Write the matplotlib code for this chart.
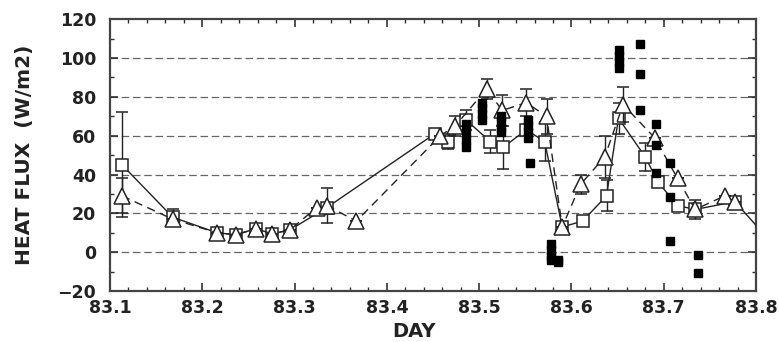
import numpy as np
import matplotlib.pyplot as plt
from matplotlib.ticker import MultipleLocator

# flux from the square-marker series (solid line)
sq_day = [83.113, 83.168, 83.216, 83.236, 83.258, 83.276, 83.295, 83.335, 83.452,
          83.466, 83.486, 83.512, 83.526, 83.551, 83.571, 83.590, 83.612, 83.638,
          83.651, 83.680, 83.694, 83.715, 83.734, 83.777, 83.815]
sq_flux = [45, 18, 10, 9, 12, 9.5, 11.5, 23, 61,
           57, 68, 57, 54, 63, 57, 13, 16, 29,
           69, 49, 36, 24, 22, 26, 6]
sq_err = [27, 4, 0, 0, 0, 0, 0, 0, 0,
          4, 5, 6, 11, 0, 10, 0, 0, 8,
          8, 7, 0, 0, 0, 0, 0]

# flux from the triangle-marker series (dashed line)
tr_day = [83.113, 83.168, 83.216, 83.236, 83.258, 83.276, 83.295, 83.324, 83.335,
          83.367, 83.458, 83.474, 83.508, 83.525, 83.551, 83.573, 83.590, 83.610,
          83.636, 83.656, 83.690, 83.715, 83.734, 83.766, 83.777]
tr_flux = [29, 17, 10, 9, 12, 9.5, 11.5, 23, 24,
           16, 60, 65, 84, 73, 77, 70, 13, 35,
           49, 76, 59, 38, 22, 29, 26]
tr_err = [9, 0, 0, 0, 0, 0, 0, 0, 9,
          0, 0, 5, 5, 8, 7, 9, 0, 5,
          11, 9, 0, 0, 5, 0, 0]

# individual estimates (filled squares)
pt_day = [83.486, 83.486, 83.486, 83.486, 83.503, 83.503, 83.503, 83.503,
          83.524, 83.524, 83.524, 83.524, 83.553, 83.553, 83.553, 83.553, 83.555,
          83.578, 83.578, 83.578, 83.578, 83.585, 83.585,
          83.652, 83.652, 83.652, 83.652, 83.674, 83.674, 83.674,
          83.692, 83.692, 83.692, 83.707, 83.707, 83.707, 83.737, 83.737]
pt_flux = [54, 58, 62, 66, 68, 71, 74, 77,
           62, 64, 67, 70, 59, 62, 65, 68, 46,
           4, 1, -2, -4, -4, -5,
           95, 98, 101, 104, 107, 92, 73,
           66, 55, 41, 46, 28.5, 6, -1.5, -10.5]

fig = plt.figure(figsize=(7.79, 3.42), dpi=100)
ax = fig.add_axes([0.1412, 0.149, 0.8293, 0.795])

for y in range(0, 101, 20):
    ax.axhline(y, color='#666666', lw=0.9, ls=(0, (6, 3)), zorder=0)

ax.errorbar(sq_day, sq_flux, yerr=sq_err, color='#222222', lw=1.0, ls='-',
            marker='s', ms=8, mfc='white', mec='#222222', mew=1.1,
            elinewidth=1.0, capsize=4, capthick=1.0, zorder=3)
ax.errorbar(tr_day, tr_flux, yerr=tr_err, color='#222222', lw=1.0, ls=(0, (6, 4)),
            marker='^', ms=12, mfc='white', mec='#222222', mew=1.1,
            elinewidth=1.0, capsize=4, capthick=1.0, zorder=4)
ax.plot(pt_day, pt_flux, ls='none', marker='s', ms=5.5, color='black', zorder=5)

ax.set_xlim(83.1, 83.8)
ax.set_ylim(-20, 120)
ax.xaxis.set_major_locator(MultipleLocator(0.1))
ax.xaxis.set_minor_locator(MultipleLocator(0.02))
ax.yaxis.set_major_locator(MultipleLocator(20))
ax.yaxis.set_minor_locator(MultipleLocator(10))
ax.xaxis.set_major_formatter(plt.FuncFormatter(lambda v, p: f'{v:.1f}'))
ax.tick_params(which='both', direction='in', top=True, right=True, color='#333333')
ax.tick_params(which='major', length=6, width=1.2, labelsize=12.5)
ax.tick_params(axis='x', which='major', pad=6)
ax.tick_params(axis='y', which='major', pad=10)
ax.tick_params(which='minor', length=3, width=1.0)
for lab in ax.get_xticklabels() + ax.get_yticklabels():
    lab.set_fontweight('bold')
    lab.set_color('#222222')
for s in ax.spines.values():
    s.set_linewidth(1.6)
    s.set_color('#444444')

ax.set_xlabel('DAY', fontsize=14, fontweight='bold', color='#222222')
ax.set_ylabel('HEAT FLUX  (W/m2)', fontsize=14.5, fontweight='bold', color='#222222')
ax.xaxis.set_label_coords(0.47, -0.115)
ax.yaxis.set_label_coords(-0.118, 0.5)

fig.savefig('out.png', dpi=100)
